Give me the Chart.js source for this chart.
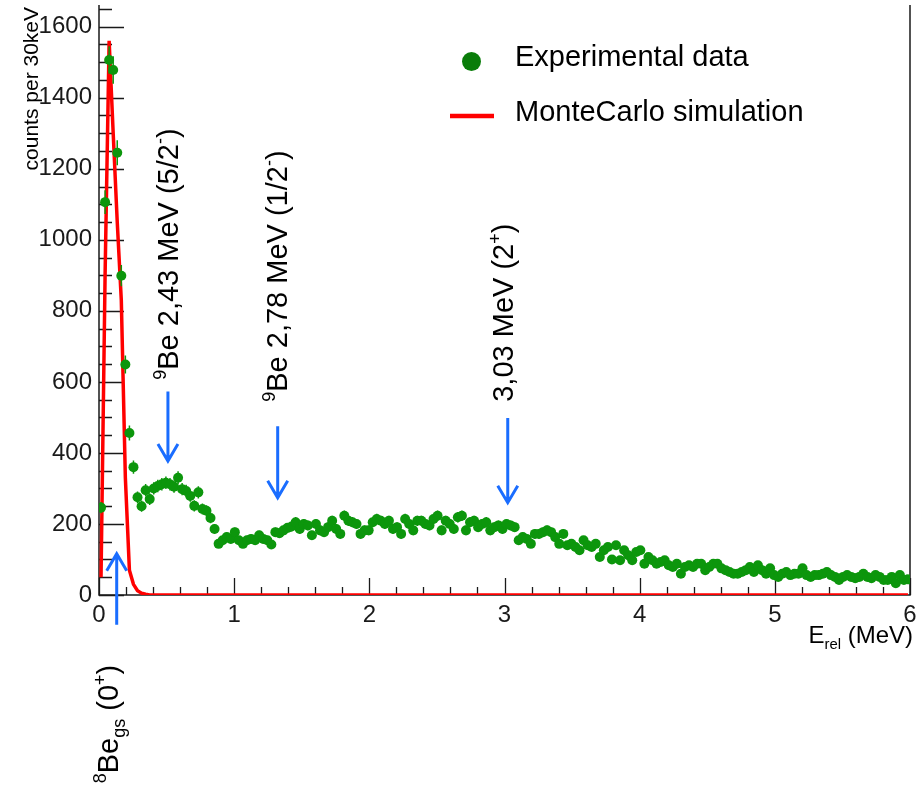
<!DOCTYPE html>
<html>
<head>
<meta charset="utf-8">
<script src="https://cdn.jsdelivr.net/npm/chart.js@4.4.1/dist/chart.umd.min.js"></script>
<style>
  html, body { margin: 0; padding: 0; background: #fff; }
  #wrap { width: 920px; height: 786px; position: relative; }
</style>
</head>
<body>
<div id="wrap"><canvas id="grafico"></canvas></div>
<script>
// histograma de E_rel, bins de 30 keV entre 0 e 6 MeV
const larguraBin = 0.03;

const contagens = [
  246, 1106, 1506, 1478, 1245, 899, 649, 456, 360,
  275, 250, 295, 270, 300, 307, 312, 316, 312, 305, 330,
  298, 293, 279, 251, 289, 242, 237, 217, 186,
  144, 154, 163, 158, 177, 154, 144, 154, 158, 154, 168, 158, 154, 142, 177, 174, 182, 189, 193, 205,
  186, 200, 196, 168, 200, 182, 177, 191, 209, 186,
  172, 223, 209, 205, 200, 172, 182, 182, 205, 214,
  209, 200, 209, 186, 191, 172, 214, 200, 182, 209,
  209, 200, 196, 214, 223, 182, 209, 200, 186, 219,
  223, 182, 205, 209, 191, 200, 205, 182, 191, 196,
  186, 200, 196, 191, 154,
  163, 158, 144, 172, 172, 177, 182, 177, 163, 144,
  172, 140, 144, 135, 126, 154, 140, 135, 144, 107,
  126, 135, 100, 140, 98, 126, 112, 98, 121, 126,
  88, 107, 98, 88, 93, 98, 84, 79, 88, 60,
  79, 84, 79, 88, 88, 70, 79, 88, 88,
  75, 70, 65, 60, 60, 65, 70, 79, 65, 84,
  70, 60, 75, 56, 51, 60, 65, 56, 60, 60,
  75, 56, 51, 56, 56, 60, 65, 56, 51, 42,
  51, 56, 51, 47, 51, 60, 51, 47, 56, 51,
  42, 42, 51, 33, 56, 42, 44
];

const simulacao = [
  50, 900, 1560, 1300, 1050, 830, 330, 70, 30, 12, 5, 2, 0, 0, 0, 0, 0, 0, 0, 0,
  0, 0, 0, 0, 0, 0, 0, 0, 0, 0, 0, 0, 0, 0, 0, 0, 0, 0, 0, 0,
  0, 0, 0, 0, 0, 0, 0, 0, 0, 0, 0, 0, 0, 0, 0, 0, 0, 0, 0, 0,
  0, 0, 0, 0, 0, 0, 0, 0, 0, 0, 0, 0, 0, 0, 0, 0, 0, 0, 0, 0,
  0, 0, 0, 0, 0, 0, 0, 0, 0, 0, 0, 0, 0, 0, 0, 0, 0, 0, 0, 0,
  0, 0, 0, 0, 0, 0, 0, 0, 0, 0, 0, 0, 0, 0, 0, 0, 0, 0, 0, 0,
  0, 0, 0, 0, 0, 0, 0, 0, 0, 0, 0, 0, 0, 0, 0, 0, 0, 0, 0, 0,
  0, 0, 0, 0, 0, 0, 0, 0, 0, 0, 0, 0, 0, 0, 0, 0, 0, 0, 0, 0,
  0, 0, 0, 0, 0, 0, 0, 0, 0, 0, 0, 0, 0, 0, 0, 0, 0, 0, 0, 0,
  0, 0, 0, 0, 0, 0, 0, 0, 0, 0, 0, 0, 0, 0, 0, 0, 0, 0, 0, 0
];

const ticksX = [0, 1, 2, 3, 4, 5, 6];
const ticksY = [0, 200, 400, 600, 800, 1000, 1200, 1400, 1600];

const rotulos = [
  [{ t: "9", sup: true }, { t: "Be 2,43 MeV (5/2" }, { t: "-", sup: true }, { t: ")" }],
  [{ t: "9", sup: true }, { t: "Be 2,78 MeV (1/2" }, { t: "-", sup: true }, { t: ")" }],
  [{ t: "3,03 MeV (2" }, { t: "+", sup: true }, { t: ")" }],
  [{ t: "8", sup: true }, { t: "Be" }, { t: "gs", sub: true }, { t: " (0" }, { t: "+", sup: true }, { t: ")" }]
];

const centros = contagens.map((_, i) => +(larguraBin * (i + 0.5)).toFixed(3));
const fonte = "'Liberation Sans', Arial, Helvetica, sans-serif";
const azul = "#1a6dff";
const verde = "#0c960c";

function larguraRica(ctx, partes, tam) {
  let w = 0;
  for (const p of partes) {
    ctx.font = `${p.sup || p.sub ? tam * 0.62 : tam}px ${fonte}`;
    w += ctx.measureText(p.t).width;
  }
  return w;
}

function textoRico(ctx, partes, tam, x, y, girar) {
  ctx.save();
  ctx.translate(x, y);
  if (girar) ctx.rotate(-Math.PI / 2);
  ctx.textAlign = "left";
  ctx.textBaseline = "alphabetic";
  ctx.fillStyle = "#000";
  let cx = 0;
  for (const p of partes) {
    ctx.font = `${p.sup || p.sub ? tam * 0.62 : tam}px ${fonte}`;
    const dy = p.sup ? -tam * 0.4 : p.sub ? tam * 0.24 : 0;
    ctx.fillText(p.t, cx, dy);
    cx += ctx.measureText(p.t).width;
  }
  ctx.restore();
}

function seta(ctx, x, y, de, ate) {
  const xp = x.getPixelForValue(de.x);
  const y0 = y.getPixelForValue(de.y);
  const y1 = y.getPixelForValue(ate);
  const dir = y1 > y0 ? 1 : -1;
  ctx.beginPath();
  ctx.moveTo(xp, y0);
  ctx.lineTo(xp, y1);
  ctx.moveTo(xp - 10, y1 - dir * 17);
  ctx.lineTo(xp, y1);
  ctx.lineTo(xp + 10, y1 - dir * 17);
  ctx.stroke();
}

// eixos no estilo ROOT: moldura e ticks para dentro
const moldura = {
  id: "moldura",
  beforeDatasetsDraw(chart) {
    const { ctx, chartArea: { left, right, top, bottom }, scales: { x, y } } = chart;
    ctx.save();
    ctx.strokeStyle = "#1a1a1a";
    ctx.lineWidth = 1.5;
    ctx.beginPath();
    ctx.moveTo(left, top);
    ctx.lineTo(left, bottom);
    ctx.lineTo(right, bottom);
    ctx.lineTo(right, top);
    ctx.stroke();
    ctx.lineWidth = 1.3;
    ctx.beginPath();
    for (let v = 0; v <= y.max; v += 50) {
      const py = Math.round(y.getPixelForValue(v)) + 0.5;
      ctx.moveTo(left, py);
      ctx.lineTo(left + (v % 200 === 0 ? 25 : 13), py);
    }
    for (let i = 0; i <= 30; i++) {
      const px = Math.round(x.getPixelForValue(i * 0.2)) + 0.5;
      ctx.moveTo(px, bottom);
      ctx.lineTo(px, bottom - (i % 5 === 0 ? 17 : 8));
    }
    ctx.stroke();
    ctx.restore();
  },
  // barras de erro (raiz de N) por baixo dos pontos
  beforeDatasetDraw(chart, args) {
    if (args.index !== 0) return;
    const { ctx, scales: { x, y } } = chart;
    ctx.save();
    ctx.strokeStyle = verde;
    ctx.lineWidth = 1.5;
    ctx.beginPath();
    contagens.forEach((v, i) => {
      const px = x.getPixelForValue(centros[i]);
      const err = Math.sqrt(v);
      ctx.moveTo(px, y.getPixelForValue(v - err));
      ctx.lineTo(px, y.getPixelForValue(v + err));
    });
    ctx.stroke();
    ctx.restore();
  }
};

const anotacoes = {
  id: "anotacoes",
  afterDraw(chart) {
    const { ctx, chartArea: { right }, scales: { x, y } } = chart;
    ctx.save();

    // setas azuis dos estados
    ctx.strokeStyle = azul;
    ctx.lineWidth = 3;
    seta(ctx, x, y, { x: 0.51, y: 573 }, 377);
    seta(ctx, x, y, { x: 1.322, y: 475 }, 274);
    seta(ctx, x, y, { x: 3.024, y: 498 }, 260);
    seta(ctx, x, y, { x: 0.131, y: -84 }, 116);

    textoRico(ctx, rotulos[0], 29, x.getPixelForValue(0.584), y.getPixelForValue(606), true);
    textoRico(ctx, rotulos[1], 29, x.getPixelForValue(1.39), y.getPixelForValue(544), true);
    textoRico(ctx, rotulos[2], 29, x.getPixelForValue(3.063), y.getPixelForValue(544), true);
    textoRico(ctx, rotulos[3], 29, x.getPixelForValue(0.14), y.getPixelForValue(-530), true);

    // legenda
    ctx.fillStyle = "#0a7d0a";
    ctx.beginPath();
    ctx.arc(471.5, 61.5, 9.5, 0, Math.PI * 2);
    ctx.fill();
    ctx.strokeStyle = "#ff0000";
    ctx.lineWidth = 4.5;
    ctx.beginPath();
    ctx.moveTo(450, 116);
    ctx.lineTo(494, 116);
    ctx.stroke();
    ctx.fillStyle = "#000";
    ctx.font = `29px ${fonte}`;
    ctx.textBaseline = "alphabetic";
    ctx.fillText("Experimental data", 515, 66);
    ctx.fillText("MonteCarlo simulation", 515, 121);

    // titulos dos eixos
    const tituloX = [{ t: "E" }, { t: "rel", sub: true }, { t: " (MeV)" }];
    const w = larguraRica(ctx, tituloX, 24);
    textoRico(ctx, tituloX, 24, right + 3 - w, 643, false);

    ctx.save();
    ctx.translate(38, 7);
    ctx.rotate(-Math.PI / 2);
    ctx.textAlign = "right";
    ctx.font = `21px ${fonte}`;
    ctx.fillStyle = "#000";
    ctx.fillText("counts per 30keV", 0, 0);
    ctx.restore();

    ctx.restore();
  }
};

Chart.defaults.font.family = fonte;

new Chart(document.getElementById("grafico"), {
  type: "line",
  data: {
    datasets: [
      {
        label: "Experimental data",
        data: centros.map((e, i) => ({ x: e, y: contagens[i] })),
        showLine: false,
        pointRadius: 5,
        pointBorderWidth: 0,
        pointBackgroundColor: verde,
        pointBorderColor: verde
      },
      {
        label: "MonteCarlo simulation",
        data: centros.map((e, i) => ({ x: e, y: simulacao[i] })),
        borderColor: "#ff0000",
        borderWidth: 3.5,
        pointRadius: 0,
        tension: 0,
        fill: false
      }
    ]
  },
  options: {
    responsive: true,
    maintainAspectRatio: false,
    animation: false,
    layout: { padding: { left: 0, right: 10, top: 0, bottom: 0 } },
    plugins: { legend: { display: false }, tooltip: { enabled: false } },
    scales: {
      x: {
        type: "linear",
        min: ticksX[0],
        max: ticksX[ticksX.length - 1],
        border: { display: false },
        grid: { display: false, drawTicks: false },
        ticks: { stepSize: 1, padding: 6, color: "#1a1a1a", font: { size: 24 }, maxRotation: 0, autoSkip: false },
        afterBuildTicks(s) { s.ticks = ticksX.map(v => ({ value: v })); },
        afterFit(s) { s.height = 191; s.paddingLeft = 0; s.paddingRight = 0; }
      },
      y: {
        min: 0,
        max: 1661,
        border: { display: false },
        grid: { display: false, drawTicks: false },
        ticks: { padding: 7, color: "#1a1a1a", font: { size: 24 }, callback: v => String(v) },
        afterBuildTicks(s) { s.ticks = ticksY.map(v => ({ value: v })); },
        afterFit(s) { s.width = 99; s.paddingTop = 0; s.paddingBottom = 0; }
      }
    }
  },
  plugins: [moldura, anotacoes]
});
</script>
</body>
</html>
